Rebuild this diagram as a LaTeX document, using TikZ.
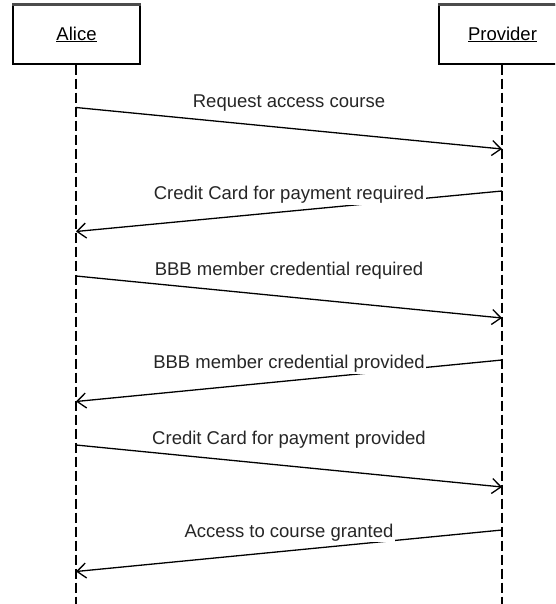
\documentclass[tikz,border=0pt]{standalone}
\usepackage{fontspec}
\setmainfont{Liberation Sans}
\usetikzlibrary{positioning,arrows.meta}

\tikzset{
  actor/.style={draw,line width=1.2pt,minimum width=127pt,minimum height=59pt,inner sep=0pt},
  lifeline/.style={line width=1.4pt,dash pattern=on 10pt off 4pt},
  msg/.style={line width=1.3pt,-{Straight Barb[length=9pt,width=15pt,line width=1.3pt]}},
  msglabel/.style={fill=white,inner sep=1.5pt,anchor=base,text=black!85}
}

\begin{document}
\begin{tikzpicture}[x=1pt,y=-1pt,font=\fontsize{18.5}{22}\selectfont]
  \useasboundingbox (0,0) rectangle (555,604);
  \clip (0,0) rectangle (555,604);
  % actors
  \node[actor] (alice) at (76.5,34.5) {\underline{Alice}};
  \node[actor] (provider) at (502.5,34.5) {\underline{Provider}};
  \draw[line width=2.4pt,black!70] (alice.north west) -- (alice.north east);
  \draw[line width=2.4pt,black!70] (provider.north west) -- (provider.north east);
  \coordinate (aend) at (76,606);
  \coordinate (pend) at (502,606);
  \draw[lifeline] (alice.south -| aend) -- (aend);
  \draw[lifeline] (provider.south -| pend) -- (pend);
  % points on the lifelines
  \coordinate (a1) at (76,107.5); \coordinate (p1) at (502,149);
  \coordinate (p2) at (502,191);  \coordinate (a2) at (76,231.5);
  \coordinate (a3) at (76,276);   \coordinate (p3) at (502,318);
  \coordinate (p4) at (502,360);  \coordinate (a4) at (76,401.5);
  \coordinate (a5) at (76,445);   \coordinate (p5) at (502,487);
  \coordinate (p6) at (502,530);  \coordinate (a6) at (76,571.5);
  % messages
  \draw[msg] (a1) -- (p1); \node[msglabel] (m1) at (289,108) {Request access course};
  \draw[msg] (p2) -- (a2); \node[msglabel] (m2) at (289,199.5) {Credit Card for payment required};
  \draw[msg] (a3) -- (p3); \node[msglabel] (m3) at (289,275.5) {BBB member credential required};
  \draw[msg] (p4) -- (a4); \node[msglabel] (m4) at (289,368.5) {BBB member credential provided};
  \draw[msg] (a5) -- (p5); \node[msglabel] (m5) at (289,444.5) {Credit Card for payment provided};
  \draw[msg] (p6) -- (a6); \node[msglabel] (m6) at (289,537) {Access to course granted};
\end{tikzpicture}
\end{document}
